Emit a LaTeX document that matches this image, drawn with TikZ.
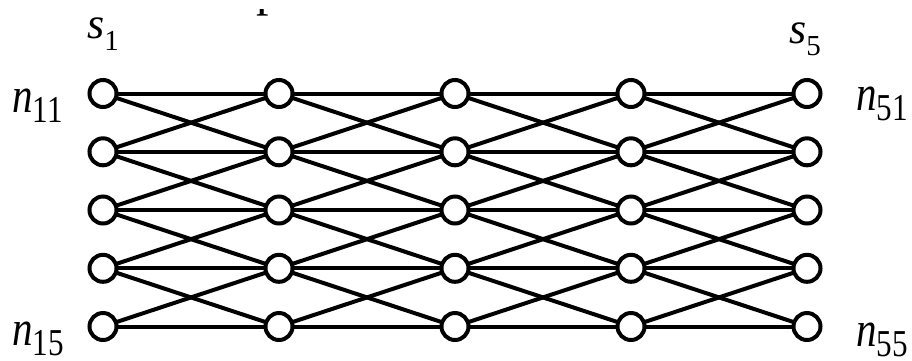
\documentclass[tikz,border=0pt]{standalone}
\usepackage{fontspec}
\setmainfont{Liberation Serif}
\usetikzlibrary{backgrounds}
\newcommand{\slab}[1]{\fontsize{44}{44}\selectfont\textit{s}\raisebox{-12pt}{\fontsize{29}{29}\selectfont #1}}
\newcommand{\nlab}[1]{\scalebox{0.82}[1]{\fontsize{50}{50}\selectfont\textit{n}\raisebox{-10pt}{\fontsize{38}{38}\selectfont #1}}}
\begin{document}
\begin{tikzpicture}[x=1pt,y=-1pt,
  nd/.style={circle,draw,fill=white,line width=4pt,minimum size=27pt,inner sep=0pt},
  edge/.style={line width=4pt},
  lab/.style={inner sep=0pt,anchor=base west}]
\useasboundingbox (0,0) rectangle (912,360);
\foreach \c/\x in {1/103,2/279,3/455,4/631,5/807}{
  \foreach \r/\y in {1/93.5,2/151.8,3/210,4/268.3,5/326.5}{
    \node[nd] (n\c\r) at (\x,\y) {};
  }
}
\begin{pgfonlayer}{background}
\foreach \c in {1,...,4}{
  \pgfmathtruncatemacro{\d}{\c+1}
  \foreach \r in {1,...,5}{
    \draw[edge] (n\c\r.center) -- (n\d\r.center);
  }
  \foreach \r in {1,...,4}{
    \pgfmathtruncatemacro{\s}{\r+1}
    \draw[edge] (n\c\r.center) -- (n\d\s.center);
    \draw[edge] (n\c\s.center) -- (n\d\r.center);
  }
}
\end{pgfonlayer}
\node[lab] (s1) at (87,38) {\slab{1}};
\node[lab] (s5) at (789,43) {\slab{5}};
\node[lab] (l11) at (12,112) {\nlab{11}};
\node[lab] (l15) at (12,345) {\nlab{15}};
\node[lab] (l51) at (856,110) {\nlab{51}};
\node[lab] (l55) at (856,346) {\nlab{55}};
\begin{scope}
\clip (240,9.5) rectangle (300,20);
\node[lab] (cut) at (256.5,5.5) {\fontsize{50}{50}\selectfont p};
\end{scope}
\end{tikzpicture}
\end{document}
